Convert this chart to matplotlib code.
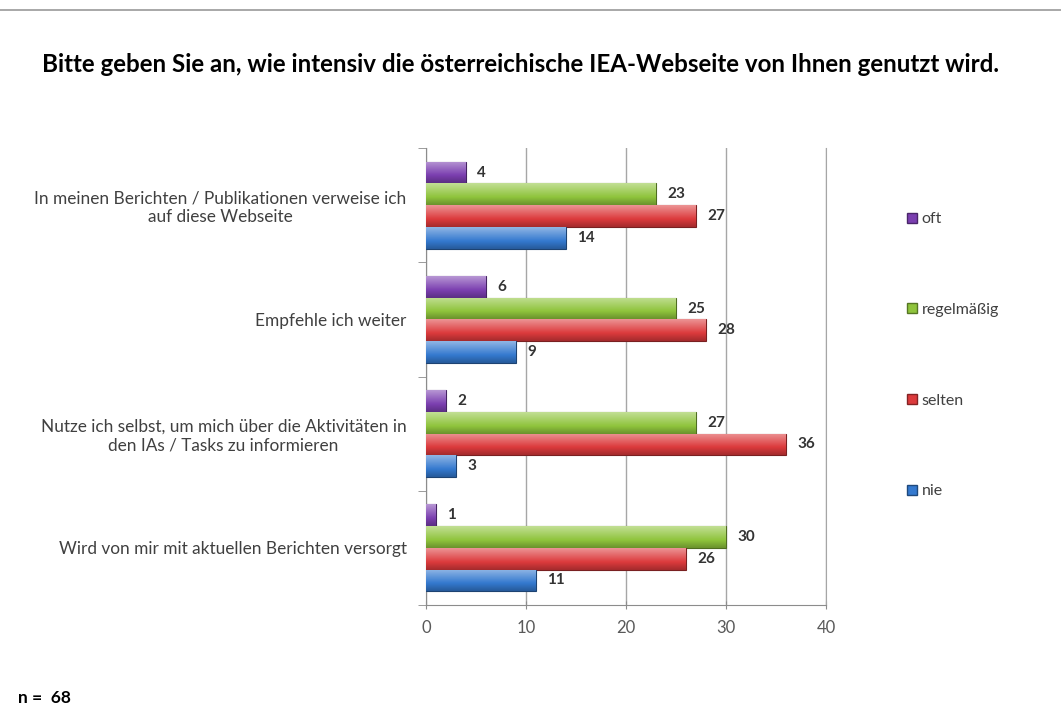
import numpy as np
import matplotlib
matplotlib.use("Agg")
import matplotlib.pyplot as plt
from matplotlib.patches import Patch
from matplotlib.colors import to_rgb

# data
categories = [
    "In meinen Berichten / Publikationen verweise ich\nauf diese Webseite",
    "Empfehle ich weiter",
    "Nutze ich selbst, um mich über die Aktivitäten in\nden IAs / Tasks zu informieren",
    "Wird von mir mit aktuellen Berichten versorgt",
]
series = ["oft", "regelmäßig", "selten", "nie"]
oft = [4, 6, 2, 1]
regelmaessig = [23, 25, 27, 30]
selten = [27, 28, 36, 26]
nie = [14, 9, 3, 11]
values = [oft, regelmaessig, selten, nie]
colors = ["#7b3fb0", "#8fc43c", "#dc3a3c", "#3479cf"]
xticks = [0, 10, 20, 30, 40]

plt.rcParams["font.family"] = ["Lato", "DejaVu Sans"]

fig = plt.figure(figsize=(10.61, 7.09), dpi=100)
ax = fig.add_axes([426 / 1061, 1 - 605 / 709, 400 / 1061, 457 / 709])

h = 0.19
y = np.arange(len(categories))


def shade(c, f):
    r = np.array(to_rgb(c))
    if f > 0:
        return r + (1 - r) * f
    return r * (1 + f)


for j, (name, vals, col) in enumerate(zip(series, values, colors)):
    pos = y + (j - 1.5) * h
    bars = ax.barh(pos, vals, height=h, color=col, edgecolor=shade(col, -0.45),
                   linewidth=0.8, zorder=3)
    # gradient to imitate the glossy bars
    grad = np.array([shade(col, f) for f in np.linspace(0.45, -0.25, 32)])
    grad = grad.reshape(32, 1, 3)
    for b, v in zip(bars, vals):
        im = ax.imshow(grad, extent=[0, v, b.get_y() + b.get_height(), b.get_y()],
                       aspect="auto", zorder=3.5, interpolation="bilinear")
        im.set_clip_path(b)
        ax.annotate(str(v), (v, b.get_y() + b.get_height() / 2), xytext=(8, 0),
                    textcoords="offset points", ha="left", va="center",
                    fontsize=11, fontweight="bold", color="#333333", zorder=5)

ax.set_xlim(0, 40)
ax.set_ylim(len(categories) - 0.5, -0.5)
ax.set_xticks(xticks)
ax.set_xticklabels([str(t) for t in xticks], fontsize=12, color="#595959")
ax.set_yticks(y)
ax.set_yticklabels(categories, fontsize=12.4, color="#404040", multialignment="center")
ax.tick_params(axis="y", which="major", length=0, pad=14)
ax.set_yticks(np.arange(-0.5, len(categories)), minor=True)
ax.tick_params(axis="y", which="minor", length=6, color="#8c8c8c", direction="out")
ax.tick_params(axis="x", length=6, color="#8c8c8c", direction="inout", pad=8)
ax.grid(axis="x", color="#a6a6a6", linewidth=1, zorder=0)
ax.spines["top"].set_visible(False)
ax.spines["right"].set_color("#a6a6a6")
for s in ["left", "bottom"]:
    ax.spines[s].set_color("#8c8c8c")

handles = [Patch(facecolor=c, edgecolor=shade(c, -0.4)) for c in colors]
fig.legend(handles, series, loc="upper left", bbox_to_anchor=(893 / 1061, 1 - 198 / 709),
           frameon=False, fontsize=11.5, labelspacing=4.8, handlelength=0.6,
           handleheight=0.6, handletextpad=0.3, labelcolor="#404040")

fig.text(520 / 1061, 1 - 65 / 709,
         "Bitte geben Sie an, wie intensiv die österreichische IEA-Webseite von Ihnen genutzt wird.",
         ha="center", va="center", fontsize=17.4, fontweight="bold", color="black")
fig.text(18 / 1061, 1 - 698 / 709, "n =  68", ha="left", va="center",
         fontsize=12.5, fontweight="bold", color="black")
fig.add_artist(plt.Line2D([0, 1], [1 - 10 / 709, 1 - 10 / 709], color="#9a9a9a", linewidth=1.2))

fig.savefig("out.png", dpi=100)
